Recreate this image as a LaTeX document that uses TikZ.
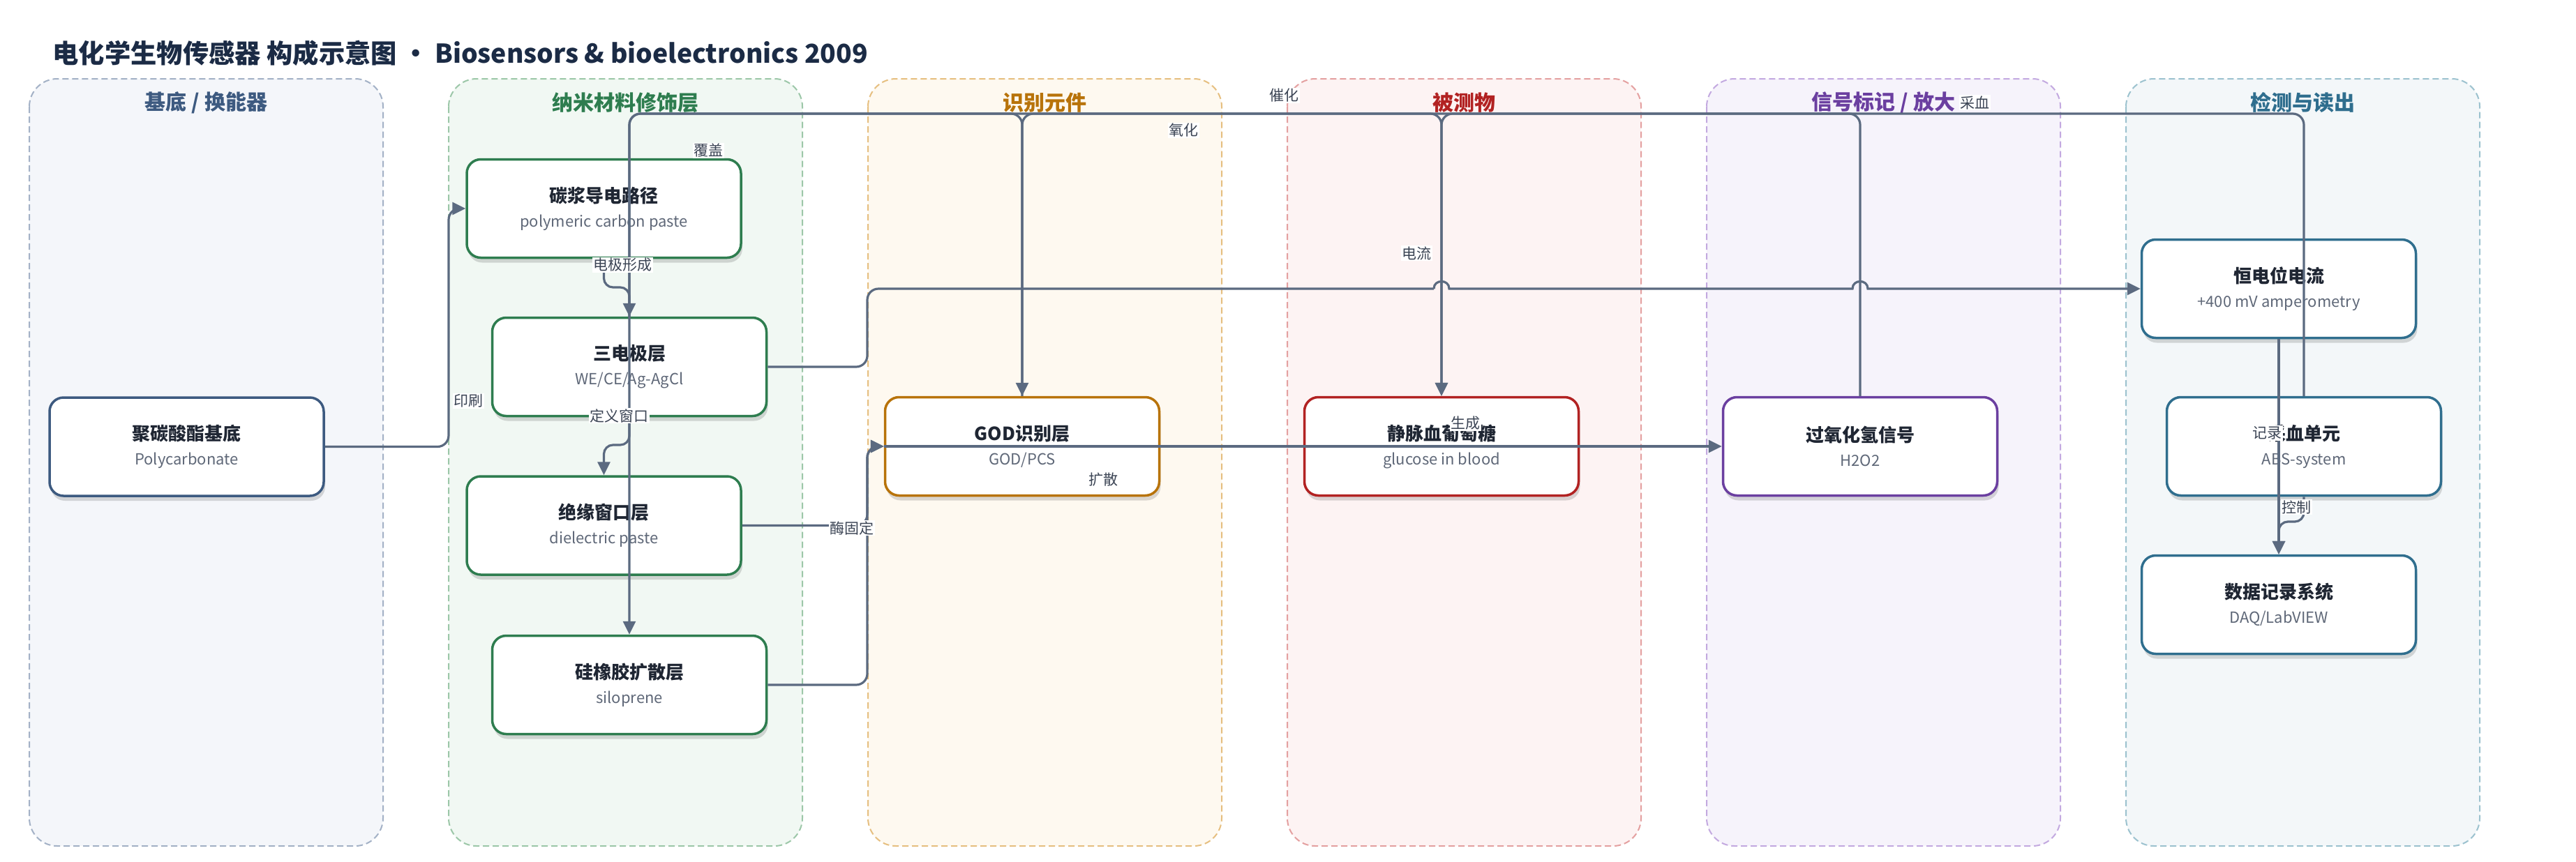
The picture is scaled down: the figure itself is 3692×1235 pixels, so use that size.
\documentclass[tikz,border=0pt]{standalone}
\usepackage{fontspec}
\setmainfont{Noto Sans CJK SC}
\usetikzlibrary{arrows.meta,shadows}
\definecolor{titlec}{HTML}{1B2B45}
\definecolor{edgec}{HTML}{5B6A80}
\definecolor{labc}{HTML}{3B4454}
\definecolor{nodetc}{HTML}{1F2633}
\definecolor{subc}{HTML}{5F6878}
\definecolor{laneAf}{HTML}{F4F6FA}\definecolor{laneAd}{HTML}{A3B1C6}\definecolor{laneAh}{HTML}{3D5A80}
\definecolor{laneBf}{HTML}{F1F8F3}\definecolor{laneBd}{HTML}{9CC7A8}\definecolor{laneBh}{HTML}{2E7D4F}
\definecolor{laneCf}{HTML}{FEF9F0}\definecolor{laneCd}{HTML}{E6BF80}\definecolor{laneCh}{HTML}{B8730A}
\definecolor{laneDf}{HTML}{FDF3F3}\definecolor{laneDd}{HTML}{E4A0A0}\definecolor{laneDh}{HTML}{B22222}
\definecolor{laneEf}{HTML}{F6F3FB}\definecolor{laneEd}{HTML}{C3A9E0}\definecolor{laneEh}{HTML}{6B3FA0}
\definecolor{laneFf}{HTML}{F3F7F9}\definecolor{laneFd}{HTML}{9CC2CF}\definecolor{laneFh}{HTML}{2F6E8E}
\newcommand{\ntext}[2]{\textbf{#1}\\{\fontsize{22}{26}\selectfont\color{subc}#2}}
\begin{document}
\begin{tikzpicture}[x=1pt,y=-1pt,
  lanebox/.style={rounded corners=40pt, line width=2pt, dash pattern=on 9pt off 5pt},
  lanehdr/.style={font=\fontsize{30}{34}\selectfont\bfseries},
  card/.style={rectangle, rounded corners=20pt, line width=3.5pt, fill=white,
    minimum width=393pt, minimum height=141pt, align=center, text=nodetc,
    font=\fontsize{26}{35}\selectfont,
    drop shadow={shadow xshift=2pt, shadow yshift=-7pt, opacity=0.14, fill=black}},
  conn/.style={draw=edgec, line width=3.2pt, rounded corners=16pt,
    -{Triangle[length=19pt,width=18pt]}},
  connplain/.style={draw=edgec, line width=3.2pt, rounded corners=16pt},
  elab/.style={fill=white, inner sep=1.5pt, text=labc, font=\fontsize{21}{22}\selectfont}
]
\useasboundingbox (0,0) rectangle (3692,1235);
\fill[white] (0,0) rectangle (3692,1235);

% title
\node[anchor=west, text=titlec, font=\fontsize{37.3}{40}\selectfont\bfseries] (title) at (72,76)
  {电化学生物传感器 构成示意图 • Biosensors \& bioelectronics 2009};

% lanes
\draw[lanebox, fill=laneAf, draw=laneAd] (42,113) rectangle (549,1213);
\draw[lanebox, fill=laneBf, draw=laneBd] (643,113) rectangle (1150,1213);
\draw[lanebox, fill=laneCf, draw=laneCd] (1244,113) rectangle (1751,1213);
\draw[lanebox, fill=laneDf, draw=laneDd] (1845,113) rectangle (2352,1213);
\draw[lanebox, fill=laneEf, draw=laneEd] (2446,113) rectangle (2953,1213);
\draw[lanebox, fill=laneFf, draw=laneFd] (3047,113) rectangle (3554,1213);

\node[lanehdr, text=laneAh] (hA) at (295.5,147) {基底 / 换能器};
\node[lanehdr, text=laneBh] (hB) at (896.5,147) {纳米材料修饰层};
\node[lanehdr, text=laneCh] (hC) at (1497.5,147) {识别元件};
\node[lanehdr, text=laneDh] (hD) at (2098.5,147) {被测物};
\node[lanehdr, text=laneEh] (hE) at (2699.5,147) {信号标记 / 放大};
\node[lanehdr, text=laneFh] (hF) at (3300.5,147) {检测与读出};

% nodes
\node[card, draw=laneAh] (sub)  at (267.5,640.5) {\ntext{聚碳酸酯基底}{Polycarbonate}};
\node[card, draw=laneBh] (carb) at (865.5,299)   {\ntext{碳浆导电路径}{polymeric carbon paste}};
\node[card, draw=laneBh] (tri)  at (902,526)     {\ntext{三电极层}{WE/CE/Ag-AgCl}};
\node[card, draw=laneBh] (diel) at (865.5,753.5) {\ntext{绝缘窗口层}{dielectric paste}};
\node[card, draw=laneBh] (silo) at (902,982)     {\ntext{硅橡胶扩散层}{siloprene}};
\node[card, draw=laneCh] (god)  at (1465,640)    {\ntext{GOD识别层}{GOD/PCS}};
\node[card, draw=laneDh] (glu)  at (2066,640)    {\ntext{静脉血葡萄糖}{glucose in blood}};
\node[card, draw=laneEh] (hpo)  at (2666,640)    {\ntext{过氧化氢信号}{H2O2}};
\node[card, draw=laneFh] (pot)  at (3266,414)    {\ntext{恒电位电流}{+400 mV amperometry}};
\node[card, draw=laneFh] (abs)  at (3302,640)    {\ntext{采血单元}{ABS-system}};
\node[card, draw=laneFh] (daq)  at (3266,867)    {\ntext{数据记录系统}{DAQ/LabVIEW}};

% hop points on the current line
\coordinate (hopa) at (2055,414);
\coordinate (hopb) at (2077,414);
\coordinate (hopc) at (2655,414);
\coordinate (hopd) at (2677,414);

% connectors
\draw[conn] (sub.east) -- (643,640.5) -- (643,299) -- (carb.west);
\draw[conn, rounded corners=13pt] (carb.south) -- (865.5,412) -- (902,412) -- (tri.north);
\draw[conn, rounded corners=13pt] (tri.south) -- (902,638) -- (865.5,638) -- (diel.north);
\draw[conn] (hpo.north) -- (2666,163) -- (902,163) -- (silo.north);
\draw[conn] (tri.north) -- (902,163) -- (1465,163) -- (god.north);
\draw[conn] (god.north) -- (1465,163) -- (2066,163) -- (glu.north);
\draw[conn] (abs.north) -- (3302,163) -- (2066,163) -- (glu.north);
\draw[connplain] (tri.east) -- (1243,526) -- (1243,414) -- (hopa);
\draw[draw=edgec, line width=3.2pt, -{Triangle[length=19pt,width=18pt]}]
   (hopa) .. controls (2055,400) and (2077,400) .. (hopb) -- (hopc)
   .. controls (2655,400) and (2677,400) .. (hopd) -- (pot.west);
\draw[conn] (diel.east) -- (1243,753.5) -- (1243,640) -- (god.west);
\draw[conn] (silo.east) -- (1243,982) -- (1243,640) -- (god.west);
\draw[conn] (god.west) -- (hpo.west);
\draw[conn] (pot.south) -- (daq.north);
\draw[conn, rounded corners=13pt] (abs.south) -- (3302,748) -- (3266,748) -- (daq.north);

% connector labels
\node[elab] (l1)  at (671,575)   {印刷};
\node[elab] (l2)  at (892,380)   {电极形成};
\node[elab] (l3)  at (887,596)   {定义窗口};
\node[elab] (l4)  at (1015,216)  {覆盖};
\node[elab] (l5)  at (1221,757)  {酶固定};
\node[elab] (l6)  at (1581,688)  {扩散};
\node[elab] (l7)  at (1840,137)  {催化};
\node[elab] (l8)  at (1696,187)  {氧化};
\node[elab] (l9)  at (2030,363)  {电流};
\node[elab] (l10) at (2100,607)  {生成};
\node[elab] (l11) at (2830,147)  {采血};
\node[elab] (l12) at (3249,621)  {记录};
\node[elab] (l13) at (3291,727)  {控制};
\end{tikzpicture}
\end{document}
